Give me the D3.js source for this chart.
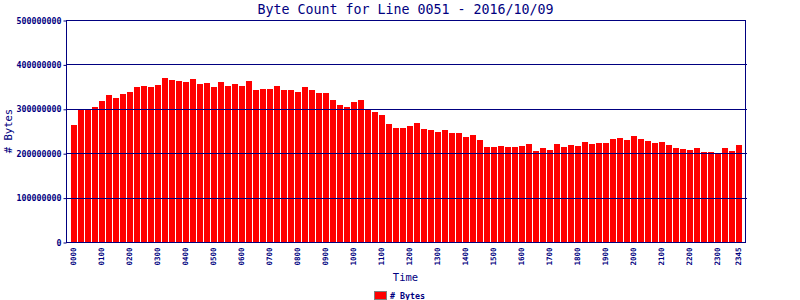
<!DOCTYPE html>
<html>
<head>
<meta charset="utf-8">
<script src="https://cdn.jsdelivr.net/npm/d3@7"></script>
<style>
  body { margin: 0; background: #fff; }
  svg { display: block; }
</style>
</head>
<body>
<script>
// 15 minute slots
const times = [
  '0000','0015','0030','0045','0100','0115','0130','0145','0200','0215','0230','0245',
  '0300','0315','0330','0345','0400','0415','0430','0445','0500','0515','0530','0545',
  '0600','0615','0630','0645','0700','0715','0730','0745','0800','0815','0830','0845',
  '0900','0915','0930','0945','1000','1015','1030','1045','1100','1115','1130','1145',
  '1200','1215','1230','1245','1300','1315','1330','1345','1400','1415','1430','1445',
  '1500','1515','1530','1545','1600','1615','1630','1645','1700','1715','1730','1745',
  '1800','1815','1830','1845','1900','1915','1930','1945','2000','2015','2030','2045',
  '2100','2115','2130','2145','2200','2215','2230','2245','2300','2315','2330','2345'
];

const bytes = [
  263500000, 299500000, 300000000, 304000000, 317600000, 331000000, 324000000, 333000000,
  338000000, 349000000, 351000000, 349000000, 353600000, 369000000, 365000000, 362600000,
  360000000, 367000000, 356000000, 358000000, 349000000, 360000000, 351000000, 356000000,
  351000000, 362600000, 342000000, 344600000, 344600000, 351000000, 342000000, 342000000,
  338000000, 349000000, 342000000, 335600000, 335600000, 320000000, 308500000, 304000000,
  315000000, 320000000, 299000000, 292800000, 286000000, 265700000, 256700000, 256700000,
  261000000, 268000000, 254500000, 252000000, 247700000, 252000000, 245500000, 245500000,
  236500000, 241000000, 229700000, 214000000, 214000000, 216000000, 214000000, 214000000,
  216000000, 220700000, 205000000, 211700000, 207000000, 220700000, 214000000, 218500000,
  216000000, 225000000, 220700000, 223000000, 223000000, 232000000, 234000000, 229700000,
  238700000, 232000000, 227500000, 223000000, 225000000, 218500000, 211700000, 209500000,
  207000000, 211700000, 202700000, 202700000, 198000000, 211700000, 205000000, 218500000
];

const xTickLabels = ['0000','0100','0200','0300','0400','0500','0600','0700','0800','0900',
  '1000','1100','1200','1300','1400','1500','1600','1700','1800','1900','2000','2100',
  '2200','2300','2345'];
const yTicks = [0, 100000000, 200000000, 300000000, 400000000, 500000000];

const navy = '#000080';
const mono = '"DejaVu Sans Mono", "Liberation Mono", monospace';

const width = 800, height = 300;
const plotLeft = 66, plotRight = 745, plotTop = 20, plotBottom = 242;

const svg = d3.select('body')
  .append('svg')
  .attr('width', width)
  .attr('height', height)
  .attr('xmlns', 'http://www.w3.org/2000/svg');

const x = d3.scaleBand()
  .domain(times)
  .range([71, 71 + times.length * 7])
  .padding(0);

const y = d3.scaleLinear()
  .domain([0, 500000000])
  .range([plotBottom, plotTop]);

// bars
svg.append('g')
  .selectAll('rect')
  .data(bytes)
  .enter()
  .append('rect')
  .attr('x', (d, i) => x(times[i]))
  .attr('y', d => Math.round(y(d)))
  .attr('width', x.bandwidth() - 1)
  .attr('height', d => plotBottom - Math.round(y(d)))
  .attr('fill', '#ff0000');

// grid lines
svg.append('g')
  .selectAll('line')
  .data(yTicks.filter(v => v > 0 && v < 500000000))
  .enter()
  .append('line')
  .attr('x1', plotLeft)
  .attr('x2', plotRight + 2)
  .attr('y1', d => Math.round(y(d)) + 0.5)
  .attr('y2', d => Math.round(y(d)) + 0.5)
  .attr('stroke', navy)
  .attr('stroke-width', 1);

// frame
svg.append('rect')
  .attr('x', plotLeft + 0.5)
  .attr('y', plotTop + 0.5)
  .attr('width', plotRight - plotLeft)
  .attr('height', plotBottom - plotTop)
  .attr('fill', 'none')
  .attr('stroke', navy)
  .attr('stroke-width', 1);

// y axis
const yAxis = svg.append('g')
  .attr('transform', `translate(${plotLeft + 0.5},0.5)`)
  .call(d3.axisLeft(y).tickValues(yTicks).tickSize(3).tickFormat(d3.format('d')));
yAxis.select('.domain').remove();
yAxis.selectAll('line').attr('stroke', navy);
yAxis.selectAll('text')
  .attr('fill', navy)
  .attr('x', -5)
  .attr('dy', '0.32em')
  .style('font-family', mono)
  .style('font-size', '8.3px')
  .style('font-weight', 'bold');

// x axis
const xAxis = svg.append('g')
  .attr('transform', `translate(0,${plotBottom + 0.5})`)
  .call(d3.axisBottom(x).tickValues(xTickLabels).tickSize(0));
xAxis.select('.domain').remove();
xAxis.selectAll('text')
  .attr('fill', navy)
  .attr('transform', 'rotate(-90)')
  .attr('text-anchor', 'end')
  .attr('x', -5)
  .attr('y', -0.5)
  .attr('dy', '0.32em')
  .style('font-family', mono)
  .style('font-size', '7.5px')
  .style('font-weight', 'bold');

// title
svg.append('text')
  .attr('x', (plotLeft + plotRight) / 2)
  .attr('y', 14)
  .attr('text-anchor', 'middle')
  .attr('fill', navy)
  .style('font-family', mono)
  .style('font-size', '13.3px')
  .text('Byte Count for Line 0051 - 2016/10/09');

// axis titles
svg.append('text')
  .attr('transform', `translate(12,${(plotTop + plotBottom) / 2}) rotate(-90)`)
  .attr('text-anchor', 'middle')
  .attr('fill', navy)
  .style('font-family', mono)
  .style('font-size', '10.5px')
  .text('# Bytes');

svg.append('text')
  .attr('x', (plotLeft + plotRight) / 2)
  .attr('y', 281)
  .attr('text-anchor', 'middle')
  .attr('fill', navy)
  .style('font-family', mono)
  .style('font-size', '10.5px')
  .text('Time');

// legend
const legend = svg.append('g').attr('transform', 'translate(374,291)');
legend.append('rect')
  .attr('x', 0.5)
  .attr('y', 0.5)
  .attr('width', 12)
  .attr('height', 8)
  .attr('fill', '#ff0000')
  .attr('stroke', '#808080');
legend.append('text')
  .attr('x', 16)
  .attr('y', 7.5)
  .attr('fill', navy)
  .style('font-family', mono)
  .style('font-size', '8.3px')
  .style('font-weight', 'bold')
  .text('# Bytes');
</script>
</body>
</html>
